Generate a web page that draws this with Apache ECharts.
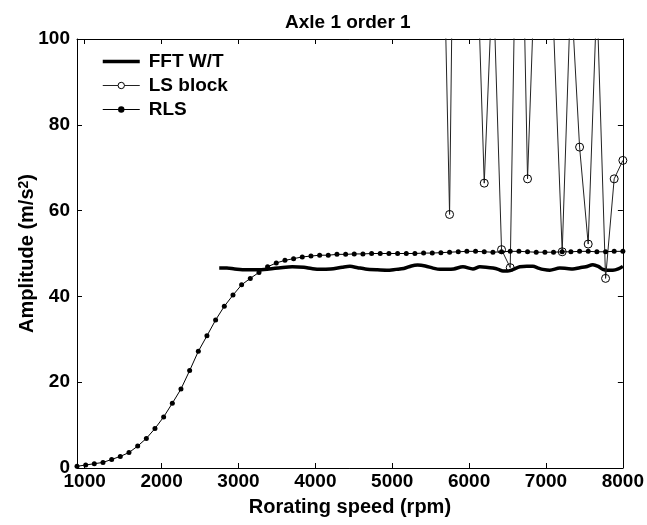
<!DOCTYPE html>
<html>
<head>
<meta charset="UTF-8">
<title>Axle 1 order 1</title>
<script src="https://cdn.jsdelivr.net/npm/echarts@6.0.0/dist/echarts.min.js"></script>
<style>
  html, body { margin: 0; padding: 0; background: #fff; }
  #chart { width: 647px; height: 525px; }
</style>
</head>
<body>
<div id="chart"></div>
<script>
// rotating speed of the RLS samples (rpm)
var rpm = [900, 1013, 1125, 1238, 1351, 1463, 1576, 1689, 1802, 1914,
           2027, 2140, 2252, 2365, 2478, 2590, 2703, 2816, 2929, 3041,
           3154, 3267, 3379, 3492, 3605, 3717, 3830, 3943, 4056, 4168,
           4281, 4394, 4506, 4619, 4732, 4844, 4957, 5070, 5183, 5295,
           5408, 5521, 5633, 5746, 5859, 5971, 6084, 6197, 6310, 6422,
           6535, 6648, 6760, 6873, 6986, 7098, 7211, 7324, 7437, 7549,
           7662, 7775, 7887, 8000];
var rlsAmp = [0.4, 0.7, 1.0, 1.3, 2.0, 2.7, 3.6, 5.1, 6.9, 9.2,
              11.9, 15.1, 18.4, 22.7, 27.2, 30.8, 34.5, 37.7, 40.3, 42.7,
              44.2, 45.6, 46.9, 47.8, 48.4, 48.8, 49.2, 49.4, 49.6, 49.6,
              49.8, 49.8, 49.9, 49.9, 50.0, 50.0, 50.0, 50.0, 50.0, 50.0,
              50.1, 50.1, 50.2, 50.3, 50.4, 50.5, 50.5, 50.4, 50.3, 50.4,
              50.5, 50.5, 50.4, 50.3, 50.3, 50.3, 50.4, 50.4, 50.5, 50.5,
              50.4, 50.4, 50.5, 50.5];

// LS block, values above 100 run off the top of the plot
var lsRpm = [5633, 5746, 5859, 5971, 6084, 6197, 6310, 6422, 6535, 6648, 6760,
             6873, 6986, 7098, 7211, 7324, 7437, 7549, 7662, 7775, 7887, 8000];
var lsAmp = [155, 59.1, 230, 180, 131, 66.4, 116, 50.9, 46.7, 170, 67.4,
             125, 150, 103, 50.4, 112, 74.8, 52.2, 110, 44.2, 67.4, 71.7];

// FFT W/T
var fftRpm = [2750, 2850, 2950, 3100, 3250, 3400, 3550, 3700, 3850, 3950,
              4060, 4200, 4350, 4450, 4550, 4650, 4800, 4930, 5050, 5150,
              5250, 5330, 5430, 5530, 5620, 5720, 5800, 5920, 6050, 6140,
              6220, 6310, 6380, 6440, 6500, 6560, 6660, 6750, 6830, 6900,
              6960, 7050, 7180, 7270, 7350, 7440, 7520, 7610, 7680, 7740,
              7800, 7870, 7940, 8000];
var fftAmp = [46.6, 46.6, 46.4, 46.2, 46.2, 46.4, 46.7, 46.9, 46.8, 46.5,
              46.3, 46.4, 46.8, 47.0, 46.7, 46.4, 46.2, 46.1, 46.3, 46.5,
              47.1, 47.3, 47.1, 46.6, 46.3, 46.3, 46.4, 46.9, 46.4, 46.9,
              46.8, 46.6, 46.3, 45.9, 45.9, 46.2, 46.9, 47.0, 47.0, 46.6,
              46.3, 46.1, 46.6, 46.5, 46.4, 46.7, 46.9, 47.4, 47.0, 46.3,
              46.1, 46.1, 46.4, 47.0];

var xTicks = [1000, 2000, 3000, 4000, 5000, 6000, 7000, 8000];

function pairs(xs, ys) {
  var out = [];
  for (var i = 0; i < xs.length; i++) out.push([xs[i], ys[i]]);
  return out;
}

var font = '"Liberation Sans", Arial, sans-serif';
var black = '#000';

var myChart = echarts.init(document.getElementById('chart'), null, { renderer: 'canvas' });

var option = {
  animation: false,
  backgroundColor: '#fff',
  title: {
    text: 'Axle 1 order 1',
    left: 280,
    top: 8,
    textStyle: { fontFamily: font, fontSize: 19, fontWeight: 'bold', color: black }
  },
  legend: {
    orient: 'vertical',
    left: 96,
    top: 47,
    itemWidth: 37,
    itemHeight: 8,
    itemGap: 5,
    // line icons, the FFT one carries an invisible marker
    data: [
      { name: 'FFT W/T', lineStyle: { color: black, width: 3.5 },
        itemStyle: { color: 'rgba(0,0,0,0)', borderWidth: 0 } },
      { name: 'LS block', lineStyle: { color: '#222', width: 1 },
        itemStyle: { color: '#fff', borderColor: black, borderWidth: 1 } },
      { name: 'RLS', lineStyle: { color: black, width: 1 },
        itemStyle: { color: black, borderWidth: 0 } }
    ],
    textStyle: { fontFamily: font, fontSize: 19, fontWeight: 'bold', color: black, padding: [0, 0, 0, 4] }
  },
  grid: { left: 77, right: 24, top: 39, bottom: 57, containLabel: false },
  xAxis: [
    {
      type: 'value', min: 900, max: 8000, position: 'bottom',
      name: 'Rorating speed (rpm)', nameLocation: 'middle', nameGap: 29,
      nameTextStyle: { fontFamily: font, fontSize: 20, fontWeight: 'bold', color: black },
      axisLine: { show: true, onZero: false, lineStyle: { color: black, width: 1 } },
      axisTick: { inside: true, length: 5, customValues: xTicks, lineStyle: { color: black } },
      axisLabel: {
        customValues: xTicks, margin: 4, fontFamily: font, fontSize: 19, fontWeight: 'bold', color: black,
        formatter: function (v) { return String(v); }
      },
      splitLine: { show: false }
    },
    {
      type: 'value', min: 900, max: 8000, position: 'top',
      axisLine: { show: true, onZero: false, lineStyle: { color: black, width: 1 } },
      axisTick: { inside: true, length: 5, customValues: xTicks, lineStyle: { color: black } },
      axisLabel: { show: false },
      splitLine: { show: false }
    }
  ],
  yAxis: [
    {
      type: 'value', min: 0, max: 100, interval: 20, position: 'left',
      name: 'Amplitude (m/s{sup|2})', nameLocation: 'middle', nameGap: 40,
      nameMoveOverlap: false,
      nameTextStyle: {
        fontFamily: font, fontSize: 20, fontWeight: 'bold', color: black,
        rich: { sup: { fontFamily: font, fontSize: 14, fontWeight: 'bold', color: black, verticalAlign: 'top', lineHeight: 14 } }
      },
      axisLine: { show: true, lineStyle: { color: black, width: 1 } },
      axisTick: { inside: true, length: 5, lineStyle: { color: black } },
      axisLabel: { margin: 7, fontFamily: font, fontSize: 19, fontWeight: 'bold', color: black },
      splitLine: { show: false }
    },
    {
      type: 'value', min: 0, max: 100, interval: 20, position: 'right',
      axisLine: { show: true, lineStyle: { color: black, width: 1 } },
      axisTick: { inside: true, length: 5, lineStyle: { color: black } },
      axisLabel: { show: false },
      splitLine: { show: false }
    }
  ],
  series: [
    {
      name: 'FFT W/T', type: 'line', xAxisIndex: 0, yAxisIndex: 0,
      data: pairs(fftRpm, fftAmp),
      symbol: 'none', smooth: 0.3,
      lineStyle: { color: black, width: 3.5 },
      itemStyle: { color: black }
    },
    {
      name: 'LS block', type: 'line', xAxisIndex: 0, yAxisIndex: 0,
      data: pairs(lsRpm, lsAmp),
      symbol: 'circle', symbolSize: 8, showAllSymbol: true, clip: true,
      lineStyle: { color: '#222', width: 1 },
      itemStyle: { color: 'rgba(255,255,255,0)', borderColor: black, borderWidth: 1 }
    },
    {
      name: 'RLS', type: 'line', xAxisIndex: 0, yAxisIndex: 0,
      data: pairs(rpm, rlsAmp),
      symbol: 'circle', symbolSize: 5, showAllSymbol: true,
      lineStyle: { color: black, width: 1 },
      itemStyle: { color: black }
    }
  ]
};

myChart.setOption(option);
</script>
</body>
</html>
